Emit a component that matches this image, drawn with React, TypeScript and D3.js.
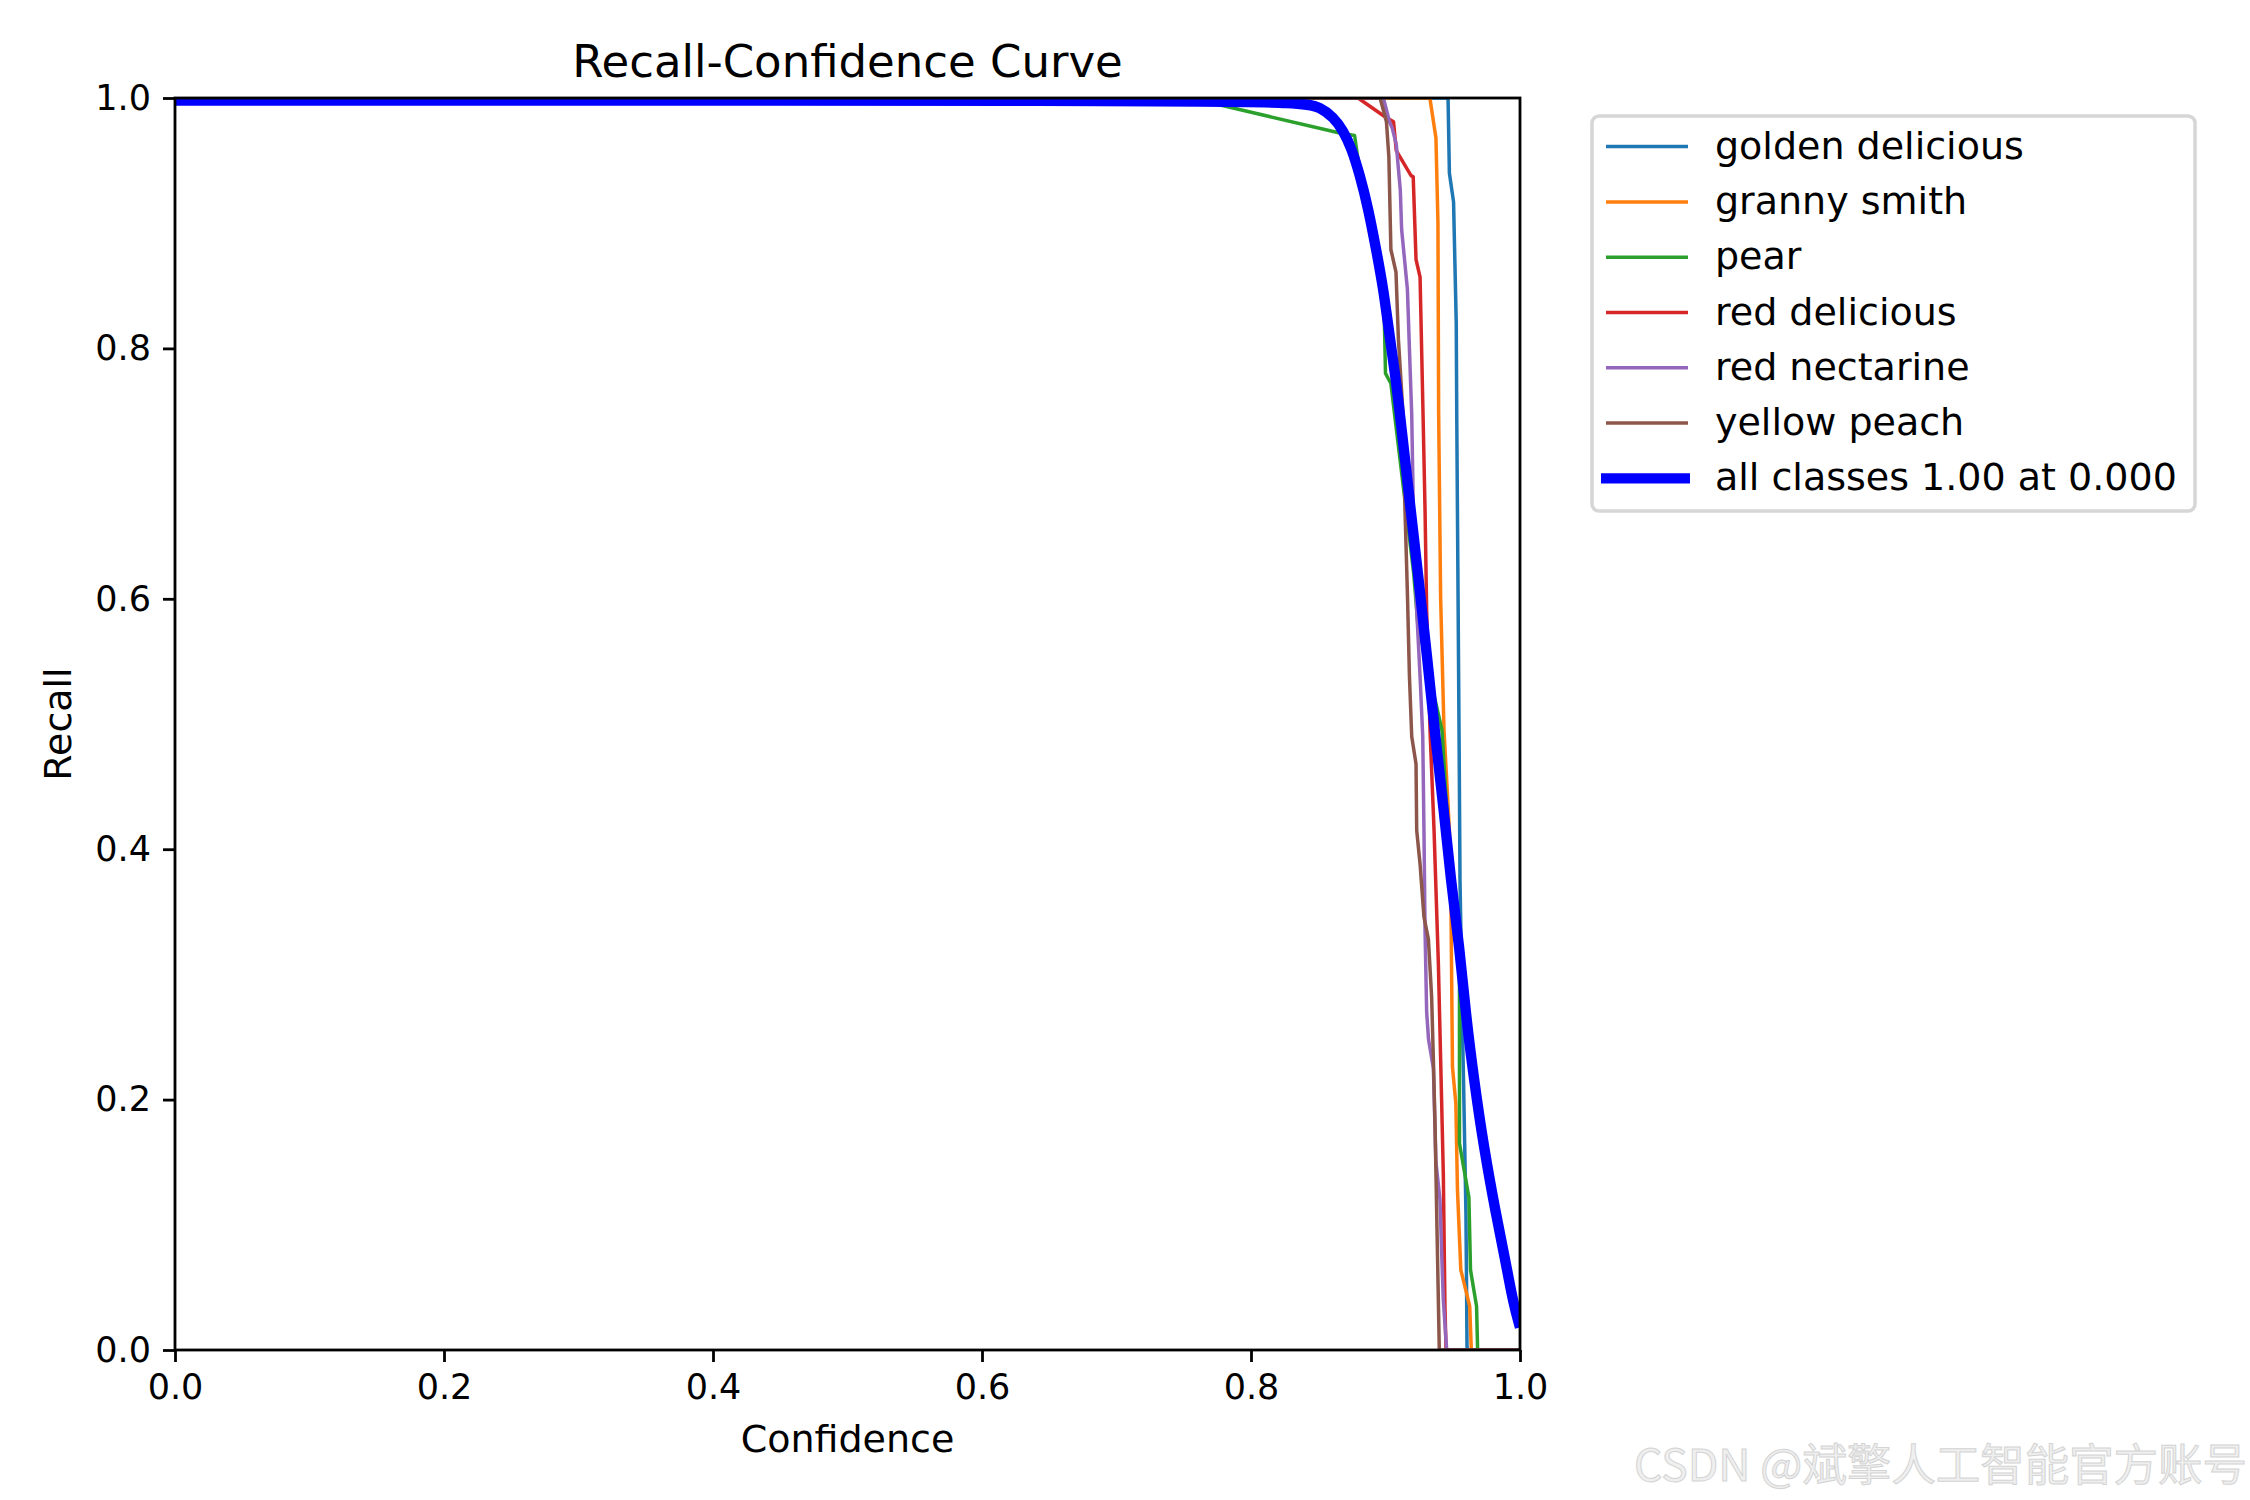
import { useEffect, useRef } from "react"
import * as d3 from "d3"

type Pt = [number, number] // [confidence, recall]

// per-class recall curves
const goldenDelicious: Pt[] = [
  [0, 1], [0.9465, 1], [0.9475, 0.94], [0.9506, 0.917], [0.9526, 0.82], [0.953, 0.743],
  [0.9547, 0.49], [0.9554, 0.375], [0.9574, 0.248], [0.958, 0.216], [0.9598, 0.109],
  [0.9602, 0.06], [0.9606, 0.003], [0.9608, 0], [1, 0],
]
const grannySmith: Pt[] = [
  [0, 1], [0.933, 1], [0.9375, 0.968], [0.939, 0.9], [0.9395, 0.75], [0.941, 0.6],
  [0.9435, 0.495], [0.9475, 0.415], [0.9485, 0.375], [0.9498, 0.226], [0.9523, 0.197],
  [0.9535, 0.128], [0.956, 0.064], [0.9626, 0.035], [0.9638, 0], [1, 0],
]
const pear: Pt[] = [
  [0, 1], [0.755, 1], [0.866, 0.972], [0.877, 0.97], [0.879, 0.955], [0.899, 0.83],
  [0.9, 0.78], [0.904, 0.772], [0.921, 0.62], [0.924, 0.58], [0.942, 0.495],
  [0.9445, 0.45], [0.952, 0.33], [0.955, 0.3], [0.955, 0.165], [0.962, 0.122],
  [0.9632, 0.064], [0.9677, 0.035], [0.9685, 0], [1, 0],
]
const redDelicious: Pt[] = [
  [0, 1], [0.8796, 1], [0.8996, 0.985], [0.906, 0.981], [0.908, 0.958], [0.919, 0.938],
  [0.9206, 0.937], [0.9227, 0.871], [0.9257, 0.857], [0.928, 0.743], [0.9294, 0.671],
  [0.9306, 0.59], [0.9331, 0.495], [0.9361, 0.415], [0.9393, 0.309], [0.941, 0.232],
  [0.9417, 0.2], [0.943, 0.14], [0.9442, 0.035], [0.945, 0], [1, 0],
]
const redNectarine: Pt[] = [
  [0, 1], [0.8984, 1], [0.903, 0.981], [0.905, 0.976], [0.908, 0.963], [0.911, 0.9265],
  [0.912, 0.895], [0.9163, 0.847], [0.918, 0.793], [0.9195, 0.747], [0.9207, 0.671],
  [0.9232, 0.591], [0.9257, 0.538], [0.9277, 0.49], [0.9286, 0.415], [0.9294, 0.335],
  [0.9306, 0.27], [0.932, 0.248], [0.9356, 0.225], [0.9375, 0.15], [0.9405, 0.12],
  [0.942, 0.07], [0.943, 0.04], [0.9455, 0], [1, 0],
]
const yellowPeach: Pt[] = [
  [0, 1], [0.896, 1], [0.9007, 0.981], [0.9025, 0.953], [0.904, 0.879], [0.9078, 0.861],
  [0.9096, 0.807], [0.9133, 0.743], [0.9145, 0.671], [0.9163, 0.604], [0.9178, 0.538],
  [0.9195, 0.49], [0.9227, 0.468], [0.9232, 0.415], [0.9257, 0.388], [0.9286, 0.346],
  [0.9319, 0.328], [0.9343, 0.282], [0.9356, 0.232], [0.9368, 0.181], [0.94, 0], [1, 0],
]
const allClasses: Pt[] = [
  [0, 0.998], [0.75, 0.998], [0.839, 0.9963], [0.8513, 0.9928], [0.8612, 0.9848],
  [0.8686, 0.974], [0.8748, 0.9596], [0.881, 0.9382], [0.8872, 0.9116], [0.8934, 0.877],
  [0.8984, 0.8477], [0.903, 0.81], [0.9075, 0.777], [0.911, 0.745], [0.9187, 0.671],
  [0.925, 0.612], [0.931, 0.553], [0.937, 0.49], [0.9435, 0.43], [0.9485, 0.3754],
  [0.955, 0.322], [0.9596, 0.269], [0.9658, 0.2157], [0.973, 0.1624], [0.982, 0.109],
  [0.9896, 0.069], [0.995, 0.0373], [1, 0.018],
]

const classNames = ["golden delicious", "granny smith", "pear", "red delicious", "red nectarine", "yellow peach"]
const classColors = ["#1f77b4", "#ff7f0e", "#2ca02c", "#d62728", "#9467bd", "#8c564b"]
const classCurves = [goldenDelicious, grannySmith, pear, redDelicious, redNectarine, yellowPeach]
const allLabel = "all classes 1.00 at 0.000"
const tickValues = [0, 0.2, 0.4, 0.6, 0.8, 1.0]

const W = 2250
const H = 1500
const FONT = "'DejaVu Sans', sans-serif"

export default function App() {
  const svgRef = useRef<SVGSVGElement>(null)

  useEffect(() => {
    const svg = d3.select(svgRef.current)
    svg.selectAll("*").remove()

    const plot = { left: 175, right: 1520, top: 98, bottom: 1350 }
    const x = d3.scaleLinear().domain([0, 1]).range([plot.left, plot.right])
    const y = d3.scaleLinear().domain([0, 1]).range([plot.bottom, plot.top])

    svg.append("rect").attr("width", W).attr("height", H).attr("fill", "#fff")

    svg.append("defs").append("clipPath").attr("id", "plot-clip")
      .append("rect")
      .attr("x", plot.left).attr("y", plot.top)
      .attr("width", plot.right - plot.left).attr("height", plot.bottom - plot.top)

    const line = d3.line<Pt>().x((d) => x(d[0])).y((d) => y(d[1]))
    const smooth = d3.line<Pt>().x((d) => x(d[0])).y((d) => y(d[1])).curve(d3.curveBasis)

    const lines = svg.append("g").attr("clip-path", "url(#plot-clip)")
    classCurves.forEach((pts, i) => {
      lines.append("path")
        .datum(pts)
        .attr("fill", "none")
        .attr("stroke", classColors[i])
        .attr("stroke-width", 3.5)
        .attr("stroke-linejoin", "round")
        .attr("d", line)
    })
    lines.append("path")
      .datum(allClasses)
      .attr("fill", "none")
      .attr("stroke", "#0000ff")
      .attr("stroke-width", 10.4)
      .attr("stroke-linejoin", "round")
      .attr("d", smooth)

    // axes
    const fmt = d3.format(".1f")
    const xAxis = svg.append("g")
      .attr("transform", `translate(0,${plot.bottom})`)
      .call(d3.axisBottom(x).tickValues(tickValues).tickFormat((d) => fmt(d as number)).tickSize(12).tickPadding(12).tickSizeOuter(0))
    const yAxis = svg.append("g")
      .attr("transform", `translate(${plot.left},0)`)
      .call(d3.axisLeft(y).tickValues(tickValues).tickFormat((d) => fmt(d as number)).tickSize(12).tickPadding(12).tickSizeOuter(0))
    ;[xAxis, yAxis].forEach((ax) => {
      ax.select(".domain").remove()
      ax.attr("font-family", FONT).attr("font-size", 35)
      ax.selectAll("line").attr("stroke", "#000").attr("stroke-width", 2.8)
      ax.selectAll("text").attr("fill", "#000")
    })

    // spines
    svg.append("rect")
      .attr("x", plot.left).attr("y", plot.top)
      .attr("width", plot.right - plot.left).attr("height", plot.bottom - plot.top)
      .attr("fill", "none").attr("stroke", "#000").attr("stroke-width", 2.8)

    // title and axis labels
    const cx = (plot.left + plot.right) / 2
    svg.append("text").attr("x", cx).attr("y", 77).attr("text-anchor", "middle")
      .attr("font-family", FONT).attr("font-size", 45).text("Recall-Confidence Curve")
    svg.append("text").attr("x", cx).attr("y", 1452).attr("text-anchor", "middle")
      .attr("font-family", FONT).attr("font-size", 38).text("Confidence")
    svg.append("text")
      .attr("transform", `translate(71,${(plot.top + plot.bottom) / 2}) rotate(-90)`)
      .attr("text-anchor", "middle")
      .attr("font-family", FONT).attr("font-size", 38).text("Recall")

    // legend
    const lg = svg.append("g")
    lg.append("rect")
      .attr("x", 1592).attr("y", 116).attr("width", 603).attr("height", 395).attr("rx", 7)
      .attr("fill", "#fff").attr("fill-opacity", 0.8)
      .attr("stroke", "#cccccc").attr("stroke-opacity", 0.8).attr("stroke-width", 3.5)
    const rowY = (i: number) => 146.6 + i * 55.3
    const entries = classNames.map((n, i) => ({ name: n, color: classColors[i], thick: false }))
    entries.push({ name: allLabel, color: "#0000ff", thick: true })
    entries.forEach((e, i) => {
      lg.append("line")
        .attr("x1", e.thick ? 1601 : 1606).attr("x2", e.thick ? 1690 : 1688)
        .attr("y1", rowY(i)).attr("y2", rowY(i))
        .attr("stroke", e.color).attr("stroke-width", e.thick ? 10.4 : 3.5)
      lg.append("text")
        .attr("x", 1715).attr("y", rowY(i) + 12)
        .attr("font-family", FONT).attr("font-size", 38)
        .text(e.name)
    })

    // watermark
    svg.append("text")
      .attr("x", 1634).attr("y", 1481)
      .attr("font-family", "'Noto Sans CJK SC', sans-serif").attr("font-size", 44)
      .attr("textLength", 613).attr("lengthAdjust", "spacingAndGlyphs")
      .attr("fill", "#efefef").attr("stroke", "#d4d4d4").attr("stroke-width", 1)
      .text("CSDN @斌擎人工智能官方账号")
  }, [])

  return (
    <div>
      <style>{`body{margin:0}`}</style>
      <svg ref={svgRef} width={W} height={H} style={{ display: "block" }} />
    </div>
  )
}
